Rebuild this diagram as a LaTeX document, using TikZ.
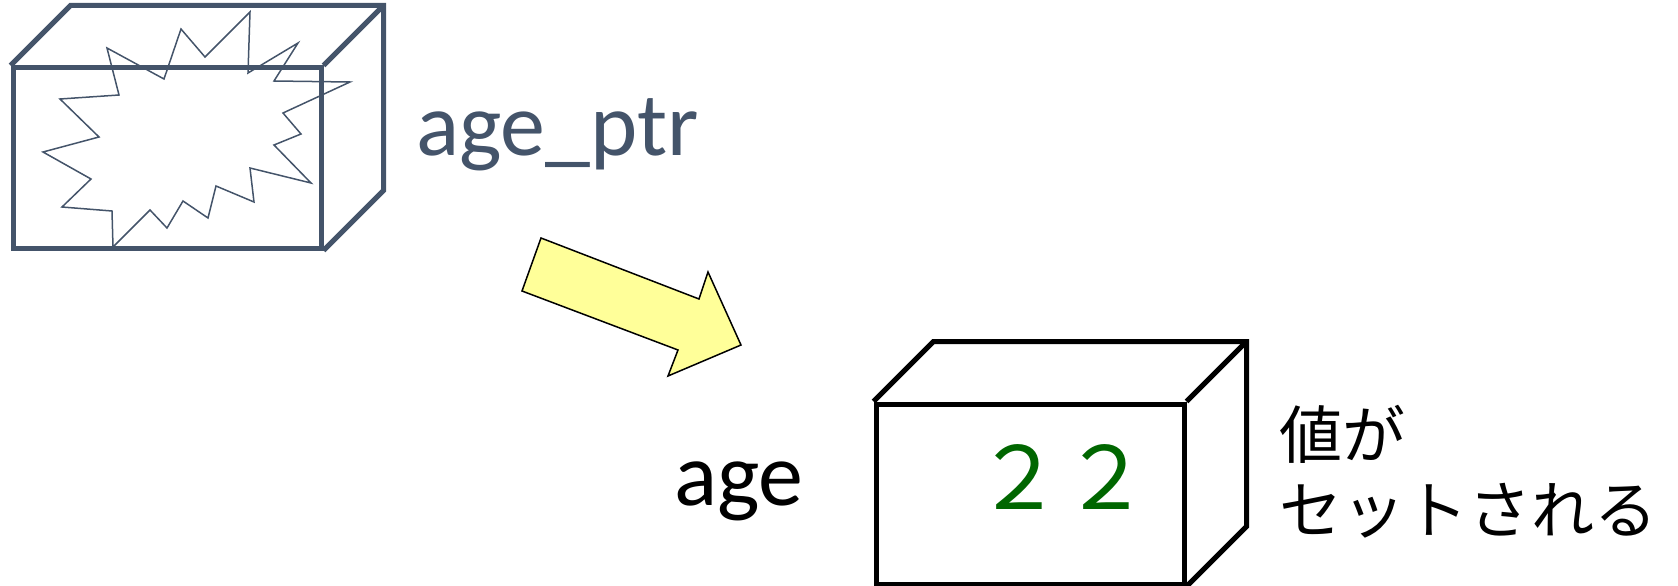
\documentclass[tikz,border=0pt]{standalone}
\usepackage{fontspec}
\setmainfont{Carlito}
\newfontfamily\jafont{Noto Sans CJK JP}
\usepackage{tikz}
\usepackage{xcolor}

\definecolor{ptrcol}{HTML}{44546A}
\definecolor{valgreen}{HTML}{006600}
\definecolor{arrowyellow}{HTML}{FFFF99}

\begin{document}
\begin{tikzpicture}[x=1pt, y=-1pt,
    cubeface/.style={draw, line width=5pt, minimum width=308pt, minimum height=180pt, inner sep=0pt},
    cubeedge/.style={line width=5pt},
    burst/.style={draw=ptrcol, line width=1.5pt},
    bigtext/.style={inner sep=0pt, anchor=base west, font=\fontsize{90}{90}\selectfont},
    jatext/.style={inner sep=0pt, anchor=base west, font=\jafont\fontsize{63}{75}\selectfont}]
  \useasboundingbox (0,0) rectangle (1678,586);

  % broken pointer box
  \draw[burst] (113,247) -- (112,211) -- (62,207) -- (91,179) -- (43,152) -- (99,137)
    -- (60,99) -- (119,95) -- (107,48) -- (164,79) -- (181,29) -- (205,57) -- (250,12)
    -- (248,73) -- (298,43) -- (274,81) -- (350,82) -- (283,113) -- (301,134) -- (274,145)
    -- (311,183) -- (250,168) -- (254,202) -- (216,186) -- (208,218) -- (183,201)
    -- (167,228) -- (150,210) -- cycle;

  \foreach \nm/\cx/\cy/\col in {ptr/167/158/ptrcol, val/1030/494/black} {
    \node[cubeface, draw=\col] (\nm) at (\cx,\cy) {};
    \draw[cubeedge, draw=\col] (\nm.north west) -- ++(60,-60)
      -| ([shift={(60,-60)}]\nm.south east) -- (\nm.south east);
    \draw[cubeedge, draw=\col] (\nm.north east) -- ++(60,-60);
  }

  \node[bigtext, text=ptrcol] (ptrname) at (416,155) {age\_ptr};
  \node[bigtext] (valname) at (674,505) {age};
  \node[inner sep=0pt, anchor=base west, text=valgreen, font=\jafont\fontsize{87}{87}\selectfont]
    (valnum) at (975,509) {２２};

  \node[jatext] (setline1) at (1279,458) {値が};
  \node[jatext] (setline2) at (1279,533) {セットされる};

  % yellow arrow
  \draw[fill=arrowyellow, line width=1.5pt, line join=miter] (541,238) -- (699,299) -- (708,272)
    -- (741,345) -- (668,376) -- (678,350) -- (522,291) -- cycle;
\end{tikzpicture}
\end{document}
